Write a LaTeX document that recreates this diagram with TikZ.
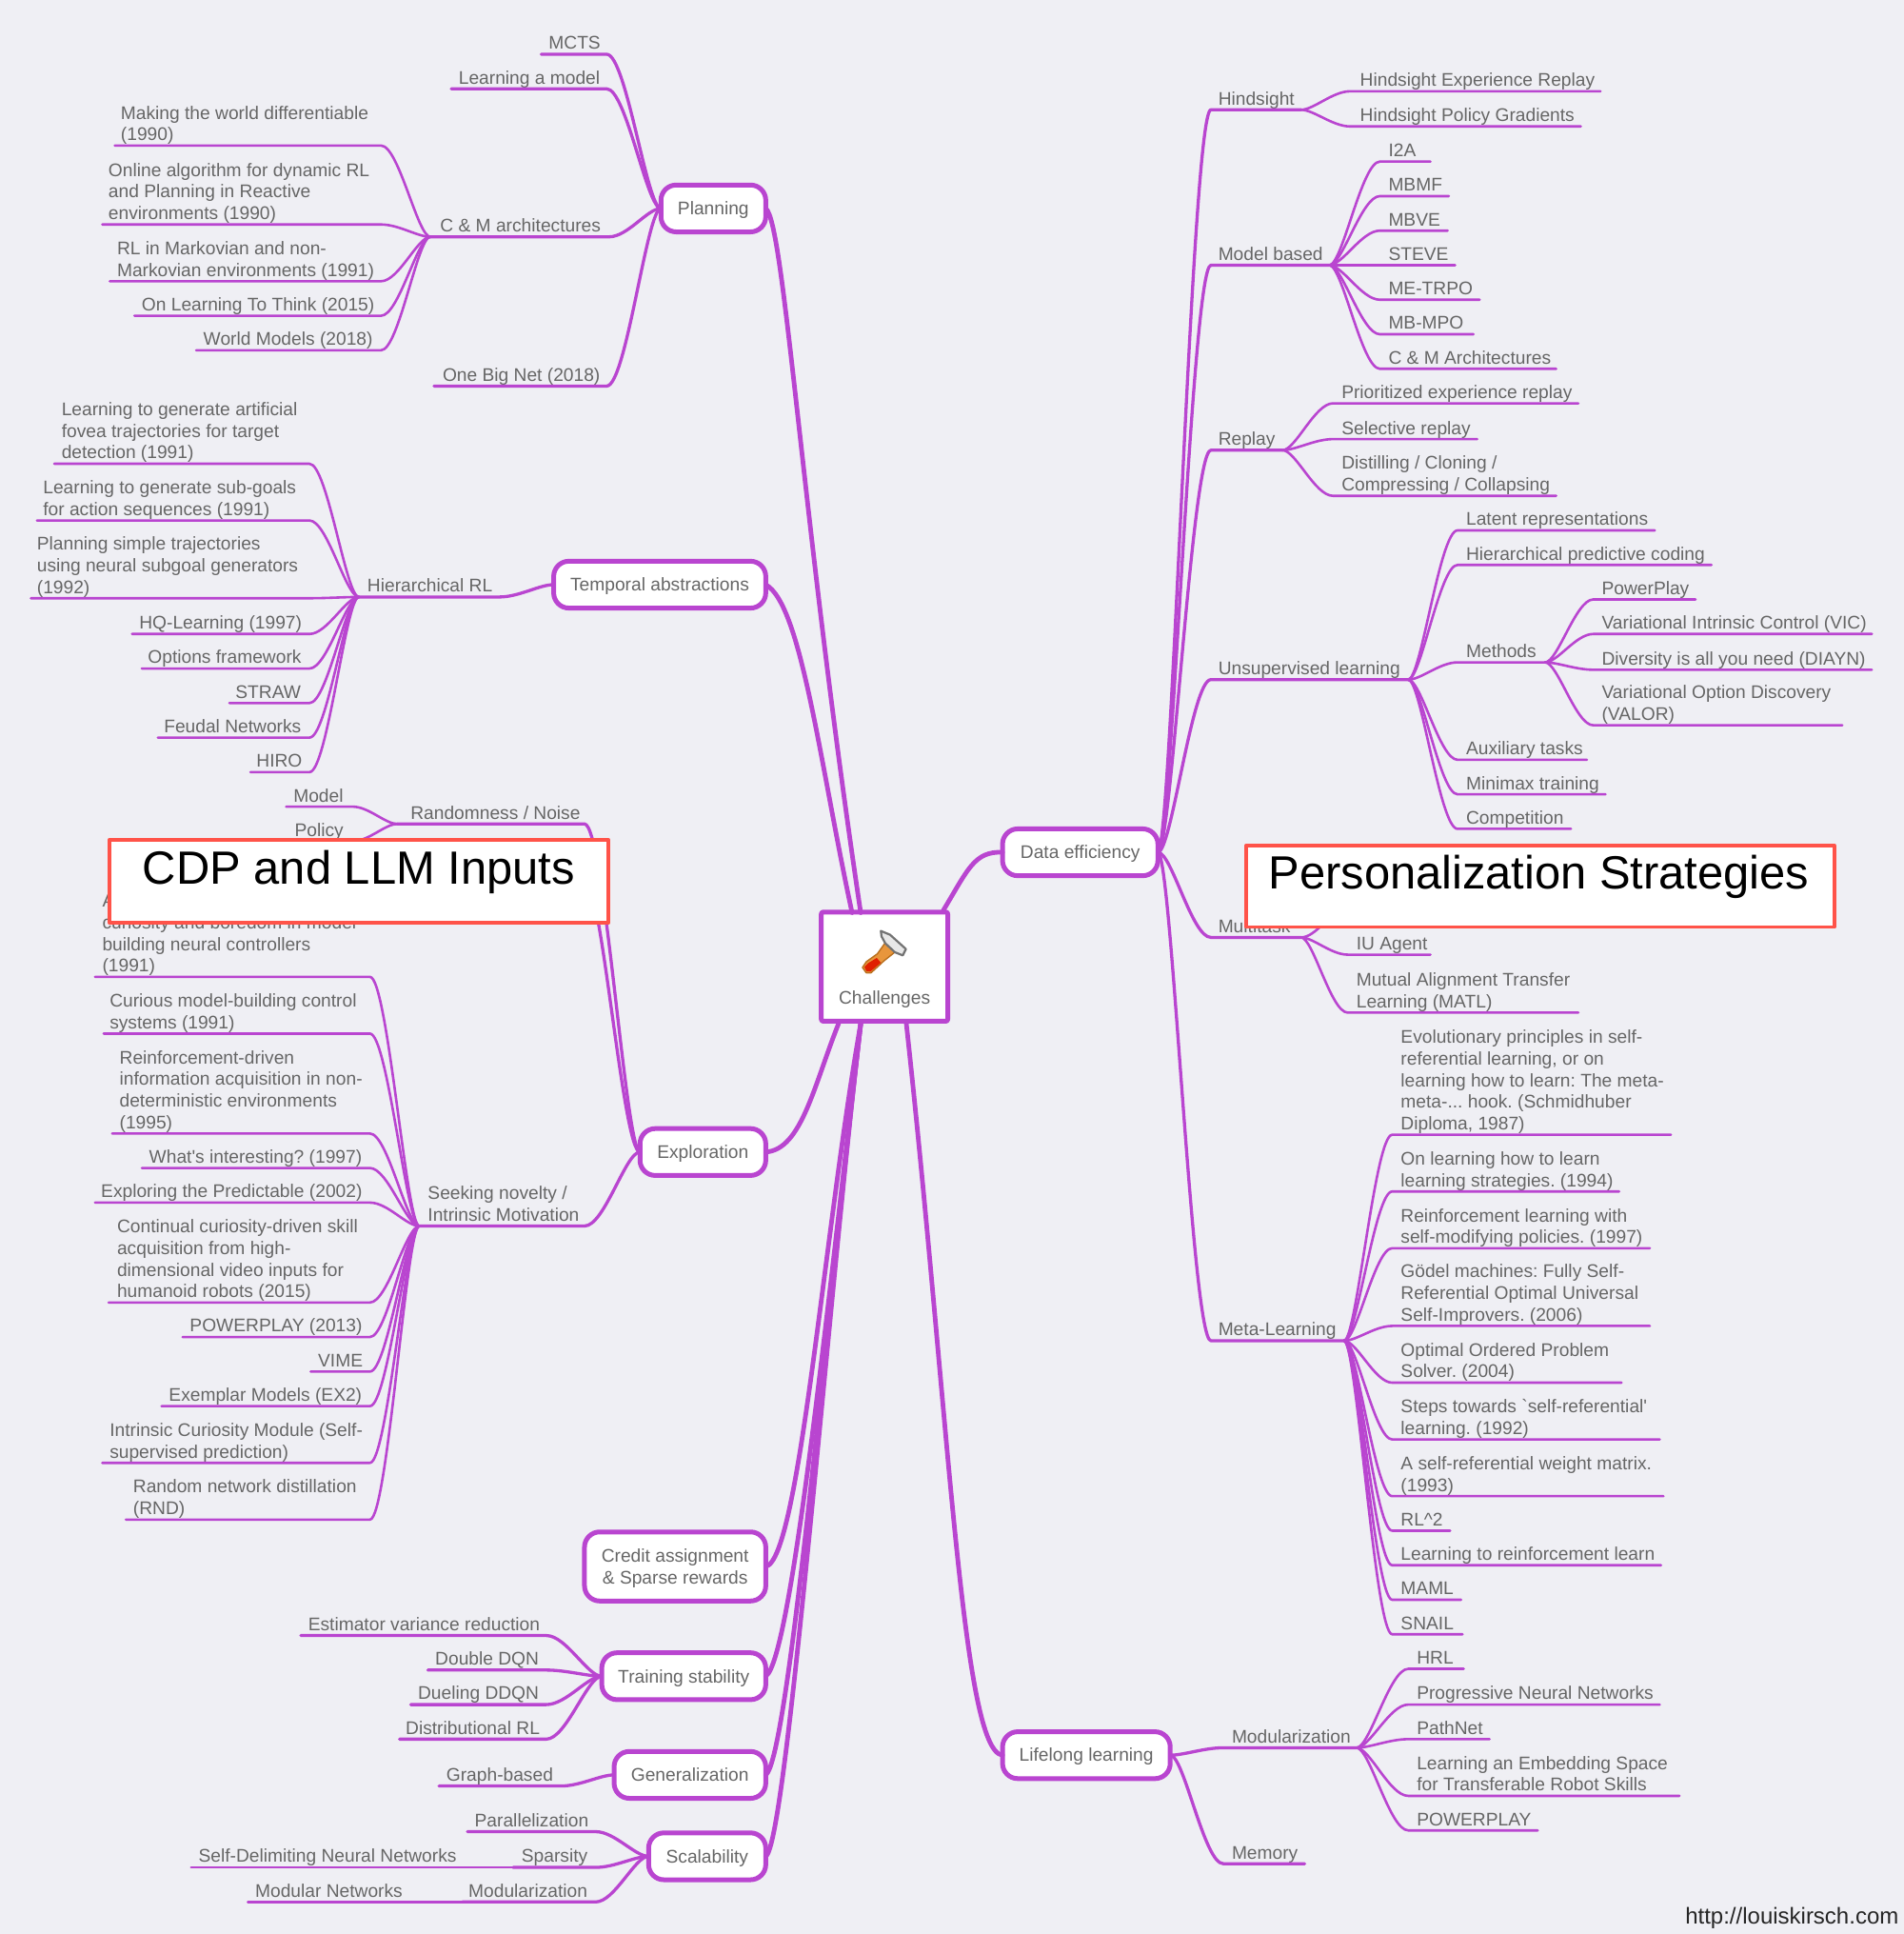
\documentclass[tikz,border=0pt]{standalone}
\usepackage{fontspec}
\usepackage{array}
\setmainfont{Liberation Sans}
\usetikzlibrary{calc}
\definecolor{bgc}{HTML}{EFEFF4}
\definecolor{pur}{HTML}{B945D0}
\definecolor{txc}{HTML}{666666}
\definecolor{redb}{HTML}{FF5349}
\definecolor{hamh}{HTML}{E8E8E8}
\definecolor{hamo}{HTML}{E8963C}
\definecolor{hamb}{HTML}{B9701F}
\definecolor{hamr}{HTML}{E02000}
\newlength\uu \setlength\uu{0.64767pt}
\frenchspacing
\tikzset{
  leaftext/.style={inner sep=0pt,outer sep=0pt,anchor=south west,text=txc,font=\fontsize{9.6}{11.35}\selectfont},
  mainbox/.style={draw=pur,fill=white,line width=2.5pt,rounded corners=8pt,text=txc,inner sep=0pt,outer sep=0pt,font=\fontsize{9.6}{11.35}\selectfont},
  overbox/.style={draw=redb,fill=white,line width=1.9pt,inner sep=0pt,outer sep=0pt},
  overtext/.style={text=black,font=\fontsize{24.45}{28}\selectfont,inner sep=0pt},
  lv1/.style={draw=pur,line width=2.4pt},
  lv2/.style={draw=pur,line width=1.65pt},
  lv3/.style={draw=pur,line width=1.3pt},
}
\newcommand\lf[6]{\node[leaftext] (#1) at (#2,#5) {\makebox[\dimexpr#4\uu-#2\uu\relax][l]{\hspace*{\dimexpr#3\uu-#2\uu\relax}\raisebox{-0.85pt}[\height][\depth]{\begin{tabular}[b]{@{}l@{}}#6\end{tabular}}}};}
\newcommand\mn[6]{\node[mainbox,minimum width=\dimexpr#3\uu-#2\uu-4\uu\relax,minimum height=\dimexpr#5\uu-#4\uu-4\uu\relax] (#1) at ({(#2+#3)/2},{(#4+#5)/2}) {\raisebox{-1.1pt}[\height][\depth]{\begin{tabular}{@{}c@{}}#6\end{tabular}}};}
% child on the left of parent: underline then curve to parent anchor
\newcommand\lkL[3]{\draw[#1] let \p1=(#2.south east),\p2=(#3),\n1={0.36*(\x2-\x1)},\n2={0.26*(\x2-\x1)} in (#2.south west) -- (\p1) .. controls (\x1+\n1,\y1) and (\x2-\n2,\y2) .. (\p2);}
% child on the right of parent: curve from parent anchor then underline
\newcommand\lkR[3]{\draw[#1] let \p1=(#2),\p2=(#3.south west),\n1={0.26*(\x2-\x1)},\n2={0.36*(\x2-\x1)} in (\p1) .. controls (\x1+\n1,\y1) and (\x2-\n2,\y2) .. (\p2) -- (#3.south east);}
\begin{document}
\begin{tikzpicture}[x=\uu,y=-\uu,line cap=round,line join=round]
\useasboundingbox (0,0) rectangle (1544,1568);
\fill[bgc] (0,0) rectangle (1544,1568);
% ===== main nodes
\mn{planning}{534}{623}{148}{190}{Planning}
\mn{temporal}{447}{623}{453}{495}{Temporal abstractions}
\mn{explor}{517}{623}{913}{955}{Exploration}
\mn{credit}{472}{623}{1240}{1300}{Credit assignment\\\& Sparse rewards}
\mn{training}{486}{623}{1338}{1380}{Training stability}
\mn{general}{496}{623}{1418}{1460}{Generalization}
\mn{scal}{524}{623}{1484}{1526}{Scalability}
\mn{data}{811}{941}{670}{712}{Data efficiency}
\mn{life}{811}{951}{1402}{1444}{Lifelong learning}
\node[draw=pur,fill=white,line width=2.5pt,rounded corners=1pt,minimum width=\dimexpr102.5\uu\relax,minimum height=\dimexpr88.5\uu\relax,inner sep=0pt,outer sep=0pt] (center) at (717.3,783.7) {};
\node[text=txc,inner sep=0pt,font=\fontsize{9.6}{11.35}\selectfont] (centerlabel) at (717.3,810) {Challenges};
% hammer, drawn in the zoom's own coordinates
\begin{scope}[shift={(663.9,733.4)},x=0.16667pt,y=-0.16667pt]
\path[fill=hamo,draw=hamb,line width=.7pt] (210,120) -- (240,150) -- (205,178) -- (165,215) -- (150,215) -- (138,198) -- (150,180) -- (185,155) -- cycle;
\path[fill=hamr] (183,168) -- (196,183) -- (163,211) -- (151,210) -- (144,197) -- (155,185) -- cycle;
\path[fill=hamh,draw=gray!90!black,line width=1.1pt] (196,83) -- (225,95) -- (275,140) -- (265,160) -- (240,150) -- (210,122) -- (198,100) -- cycle;
\end{scope}
% ===== Planning
\lf{mcts}{439}{445}{492}{44}{MCTS}
\lf{lmodel}{366}{372}{492}{72}{Learning a model}
\lf{cm}{349}{357}{494}{192}{C \& M architectures}
\lf{mwd}{93}{98}{309}{118}{Making the world differentiable\\(1990)}
\lf{online}{83}{88}{309}{182}{Online algorithm for dynamic RL\\and Planning in Reactive\\environments (1990)}
\lf{rlm}{89}{95}{309}{228}{RL in Markovian and non-\\Markovian environments (1991)}
\lf{oltt}{109}{115}{309}{256}{On Learning To Think (2015)}
\lf{wm}{159}{165}{309}{284}{World Models (2018)}
\lf{obn}{352}{359}{492}{313}{One Big Net (2018)}
% ===== Temporal
\lf{hrl}{291}{298}{405}{484}{Hierarchical RL}
\lf{fovea}{44}{50}{251}{376}{Learning to generate artificial\\fovea trajectories for target\\detection (1991)}
\lf{subg}{30}{35}{251}{422}{Learning to generate sub-goals\\for action sequences (1991)}
\lf{traj}{25}{30}{251}{485}{Planning simple trajectories\\using neural subgoal generators\\(1992)}
\lf{hq}{107}{113}{251}{514}{HQ-Learning (1997)}
\lf{opt}{115}{120}{251}{542}{Options framework}
\lf{straw}{186}{191}{251}{570}{STRAW}
\lf{feud}{128}{133}{251}{598}{Feudal Networks}
\lf{hiro}{203}{208}{251}{626}{HIRO}
% ===== Exploration
\lf{rand}{322}{333}{474}{668}{Randomness / Noise}
\lf{model}{232}{238}{286}{654}{Model}
\lf{policy}{232}{239}{286}{682}{Policy}
\coordinate (randhidden) at (474,712);
\lf{seek}{340}{347}{474}{994}{Seeking novelty /\\Intrinsic Motivation}
\lf{poss}{77}{83}{300}{792}{A possibility for implementing\\curiosity and boredom in model-\\building neural controllers\\(1991)}
\lf{cur}{84}{89}{300}{838}{Curious model-building control\\systems (1991)}
\lf{reinf}{91}{97}{300}{919}{Reinforcement-driven\\information acquisition in non-\\deterministic environments\\(1995)}
\lf{what}{115}{121}{300}{947}{What\textquotesingle s interesting? (1997)}
\lf{pred}{77}{82}{300}{975}{Exploring the Predictable (2002)}
\lf{cont}{88}{95}{300}{1056}{Continual curiosity-driven skill\\acquisition from high-\\dimensional video inputs for\\humanoid robots (2015)}
\lf{powerL}{148}{154}{300}{1084}{POWERPLAY (2013)}
\lf{vime}{252}{258}{300}{1112}{VIME}
\lf{ex2}{131}{137}{300}{1140}{Exemplar Models (EX2)}
\lf{icm}{83}{89}{300}{1186}{Intrinsic Curiosity Module (Self-\\supervised prediction)}
\lf{rnd}{102}{108}{300}{1232}{Random network distillation\\(RND)}
% ===== Training etc
\lf{evr}{244}{250}{443}{1326}{Estimator variance reduction}
\lf{ddqn}{347}{353}{443}{1354}{Double DQN}
\lf{dddqn}{333}{339}{443}{1382}{Dueling DDQN}
\lf{dist}{324}{329}{443}{1410}{Distributional RL}
\lf{graph}{356}{362}{455}{1448}{Graph-based}
\lf{para}{379}{385}{483}{1485}{Parallelization}
\lf{spars}{416}{423}{483}{1514}{Sparsity}
\lf{sdnn}{155}{161}{416}{1514}{Self-Delimiting Neural Networks}
\lf{modz}{375}{380}{483}{1542}{Modularization}
\lf{modn}{201}{207}{375}{1542}{Modular Networks}
% ===== Data efficiency
\lf{hind}{982}{988}{1055}{89}{Hindsight}
\lf{her}{1095}{1103}{1298}{74}{Hindsight Experience Replay}
\lf{hpg}{1095}{1103}{1282}{102.5}{Hindsight Policy Gradients}
\lf{mb}{982}{988}{1078}{215}{Model based}
\lf{itoa}{1119}{1126}{1160}{131}{I2A}
\lf{mbmf}{1119}{1126}{1175}{159}{MBMF}
\lf{mbve}{1119}{1126}{1174}{187}{MBVE}
\lf{steve}{1119}{1126}{1180}{215}{STEVE}
\lf{metrpo}{1119}{1126}{1200}{243}{ME-TRPO}
\lf{mbmpo}{1119}{1126}{1195}{271}{MB-MPO}
\lf{cmarch}{1119}{1126}{1262}{299}{C \& M Architectures}
\lf{replay}{982}{988}{1040}{365}{Replay}
\lf{prio}{1081}{1088}{1280}{327}{Prioritized experience replay}
\lf{sel}{1081}{1088}{1198}{356}{Selective replay}
\lf{disti}{1081}{1088}{1262}{402}{Distilling / Cloning /\\Compressing / Collapsing}
\lf{unsup}{982}{988}{1142}{551}{Unsupervised learning}
\lf{latent}{1182}{1189}{1342}{430}{Latent representations}
\lf{hpc}{1182}{1189}{1388}{458}{Hierarchical predictive coding}
\lf{meth}{1182}{1189}{1253}{537}{Methods}
\lf{aux}{1182}{1189}{1287}{616}{Auxiliary tasks}
\lf{minimax}{1182}{1189}{1302}{644}{Minimax training}
\lf{comp}{1182}{1189}{1274}{672}{Competition}
\lf{pplay}{1292}{1299}{1375}{486}{PowerPlay}
\lf{vic}{1292}{1299}{1518}{514}{Variational Intrinsic Control (VIC)}
\lf{diayn}{1292}{1299}{1518}{543}{Diversity is all you need (DIAYN)}
\lf{valor}{1292}{1299}{1494}{588}{Variational Option Discovery\\(VALOR)}
\lf{multi}{982}{988}{1055}{760}{Multitask}
\lf{iu}{1093}{1100}{1160}{774}{IU Agent}
\lf{matl}{1093}{1100}{1280}{821}{Mutual Alignment Transfer\\Learning (MATL)}
\coordinate (multihidden) at (1093,738);
\lf{meta}{982}{988}{1090}{1087}{Meta-Learning}
\lf{evo}{1129}{1136}{1355}{920}{Evolutionary principles in self-\\referential learning, or on\\learning how to learn: The meta-\\meta-... hook. (Schmidhuber\\Diploma, 1987)}
\lf{oll}{1129}{1136}{1313}{966}{On learning how to learn\\learning strategies. (1994)}
\lf{rlself}{1129}{1136}{1338}{1012}{Reinforcement learning with\\self-modifying policies. (1997)}
\lf{godel}{1129}{1136}{1338}{1075}{Gödel machines: Fully Self-\\Referential Optimal Universal\\Self-Improvers. (2006)}
\lf{oops}{1129}{1136}{1315}{1121}{Optimal Ordered Problem\\Solver. (2004)}
\lf{steps}{1129}{1136}{1346}{1167}{Steps towards \textasciigrave self-referential\textquotesingle\\learning. (1992)}
\lf{swm}{1129}{1136}{1349}{1213}{A self-referential weight matrix.\\(1993)}
\lf{rltwo}{1129}{1136}{1176}{1241}{RL\textasciicircum 2}
\lf{l2rl}{1129}{1136}{1347}{1269}{Learning to reinforcement learn}
\lf{maml}{1129}{1136}{1185}{1297}{MAML}
\lf{snail}{1129}{1136}{1186}{1325}{SNAIL}
% ===== Lifelong
\lf{modu}{992}{999}{1100}{1417}{Modularization}
\lf{hrlR}{1142}{1149}{1187}{1353}{HRL}
\lf{pnn}{1142}{1149}{1346}{1382}{Progressive Neural Networks}
\lf{pathn}{1142}{1149}{1208}{1410}{PathNet}
\lf{embed}{1142}{1149}{1362}{1456}{Learning an Embedding Space\\for Transferable Robot Skills}
\lf{powerR}{1142}{1149}{1247}{1484}{POWERPLAY}
\lf{memory}{992}{999}{1058}{1511}{Memory}
% ===== centre ports
\coordinate (cA) at (691,740);
\coordinate (cB) at (698,740);
\coordinate (cC) at (765,738);
\coordinate (cD) at (680,830);
\coordinate (cE) at (698,830);
\coordinate (cF) at (735,830);
% ===== level 1
\draw[lv1] (planning.east) .. controls (636,180) and (650,420) .. (cB);
\draw[lv1] (temporal.east) .. controls (650,490) and (665,620) .. (cA);
\draw[lv1] (data.west) .. controls (790,690) and (785,705) .. (cC);
\draw[lv1] (explor.east) .. controls (650,932) and (660,880) .. (cD);
\draw[lv1] (credit.east) .. controls (648,1265) and (668,1000) .. (cE);
\draw[lv1] (training.east) .. controls (642,1345) and (672,1050) .. (cE);
\draw[lv1] (general.east) .. controls (640,1425) and (672,1050) .. (cE);
\draw[lv1] (scal.east) .. controls (638,1495) and (672,1050) .. (cE);
\draw[lv1] (life.west) .. controls (780,1420) and (770,1150) .. (cF);
% ===== level 2 / 3 left
\foreach \c in {mcts,lmodel,cm,obn} {\lkL{lv2}{\c}{planning.west}}
\foreach \c in {mwd,online,rlm,oltt,wm} {\lkL{lv3}{\c}{cm.south west}}
\lkL{lv2}{hrl}{temporal.west}
\foreach \c in {fovea,subg,traj,hq,opt,straw,feud,hiro} {\lkL{lv3}{\c}{hrl.south west}}
\lkL{lv2}{rand}{explor.west}
\draw[lv2] (randhidden) .. controls (488,712) and (505,934) .. (explor.west);
\lkL{lv2}{seek}{explor.west}
\foreach \c in {model,policy} {\lkL{lv3}{\c}{rand.south west}}
\foreach \c in {poss,cur,reinf,what,pred,cont,powerL,vime,ex2,icm,rnd} {\lkL{lv3}{\c}{seek.south west}}
\foreach \c in {evr,ddqn,dddqn,dist} {\lkL{lv2}{\c}{training.west}}
\lkL{lv2}{graph}{general.west}
\foreach \c in {para,spars,modz} {\lkL{lv2}{\c}{scal.west}}
\lkL{lv3}{sdnn}{spars.south west}
\lkL{lv3}{modn}{modz.south west}
% ===== right
\foreach \c in {hind,mb,replay,unsup,multi,meta} {\lkR{lv2}{data.east}{\c}}
\foreach \c in {her,hpg} {\lkR{lv3}{hind.south east}{\c}}
\foreach \c in {itoa,mbmf,mbve,steve,metrpo,mbmpo,cmarch} {\lkR{lv3}{mb.south east}{\c}}
\foreach \c in {prio,sel,disti} {\lkR{lv3}{replay.south east}{\c}}
\foreach \c in {latent,hpc,meth,aux,minimax,comp} {\lkR{lv3}{unsup.south east}{\c}}
\foreach \c in {pplay,vic,diayn,valor} {\lkR{lv3}{meth.south east}{\c}}
\foreach \c in {iu,matl} {\lkR{lv3}{multi.south east}{\c}}
\draw[lv3] (multi.south east) .. controls (1068,760) and (1078,738) .. (multihidden);
\foreach \c in {evo,oll,rlself,godel,oops,steps,swm,rltwo,l2rl,maml,snail} {\lkR{lv3}{meta.south east}{\c}}
\foreach \c in {modu,memory} {\lkR{lv2}{life.east}{\c}}
\foreach \c in {hrlR,pnn,pathn,embed,powerR} {\lkR{lv3}{modu.south east}{\c}}
% ===== overlays
\node[overbox,minimum width=\dimexpr405\uu\relax,minimum height=\dimexpr67\uu\relax] (cdpbox) at (291,714.5) {};
\node[overtext] (cdptext) at (291,707) {CDP and LLM Inputs};
\node[overbox,minimum width=\dimexpr477\uu\relax,minimum height=\dimexpr66\uu\relax] (persbox) at (1249,718.5) {};
\node[overtext] (perstext) at (1248,711) {Personalization Strategies};
\node[text=black!85,inner sep=0pt,font=\fontsize{12}{14}\selectfont,anchor=east] (url) at (1540,1555) {http://louiskirsch.com};
\end{tikzpicture}
\end{document}
